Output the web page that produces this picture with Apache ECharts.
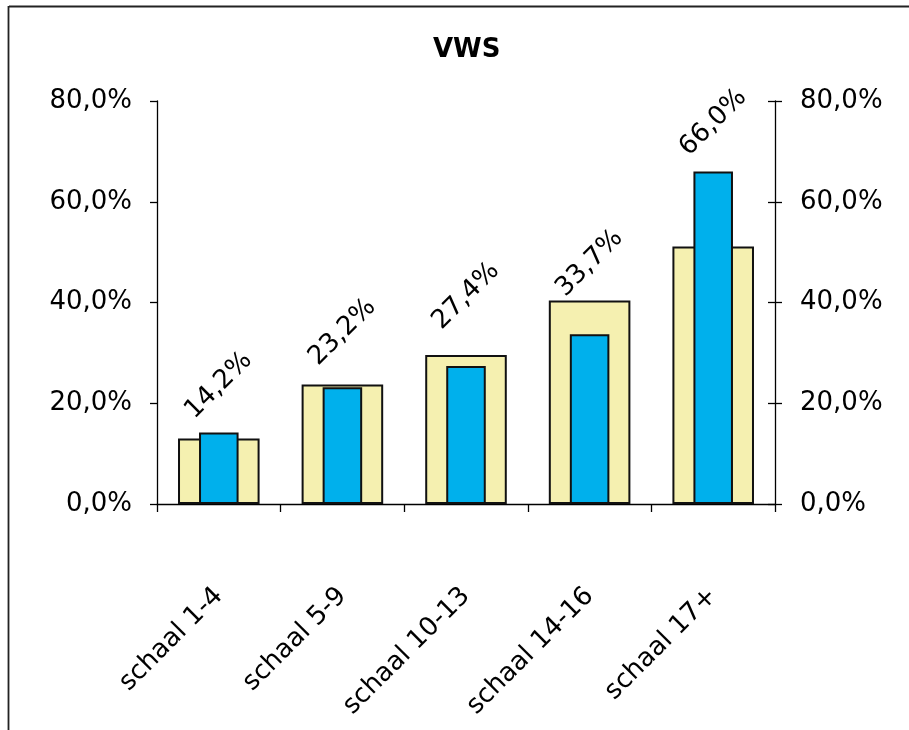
<!DOCTYPE html>
<html><head><meta charset="utf-8">
<script src="https://cdn.jsdelivr.net/npm/echarts@6/dist/echarts.min.js"></script>
<style>html,body{margin:0;padding:0;background:#fff}#c{width:909px;height:730px}</style>
</head><body><div id="c"></div>
<script>
const categories = ['schaal 1-4', 'schaal 5-9', 'schaal 10-13', 'schaal 14-16', 'schaal 17+'];
const backgroundValues = [13.0, 23.7, 29.6, 40.4, 51.1];
const vwsValues = [14.2, 23.2, 27.4, 33.7, 66.0];
const yTicks = [0, 20, 40, 60, 80];
// label distance above each blue bar (style)
const labelDistances = [47, 55, 70, 71, 49];

const FONT = '"DejaVu Sans", sans-serif';
const fmt = v => v.toFixed(1).replace('.', ',') + '%';

const chart = echarts.init(document.getElementById('c'));
const yAxisCommon = {
  type: 'value', min: yTicks[0], max: yTicks[yTicks.length - 1], interval: yTicks[1] - yTicks[0],
  axisLine: { show: true, lineStyle: { color: '#000', width: 1.3 } },
  axisTick: { show: true, length: 7, lineStyle: { color: '#000', width: 1.3 } },
  splitLine: { show: false },
  axisLabel: { formatter: fmt, color: '#000', fontSize: 26, fontFamily: FONT, margin: 25 }
};
const xAxisCommon = { type: 'category', data: categories, boundaryGap: true };
chart.setOption({
  backgroundColor: '#fff',
  animation: false,
  title: { text: 'VWS', left: 428, top: 32, textStyle: { fontSize: 26, fontWeight: 'bold', color: '#000', fontFamily: FONT } },
  grid: { left: 157, right: 134, top: 101, bottom: 226 },
  xAxis: [
    Object.assign({}, xAxisCommon, {
      axisLine: { lineStyle: { color: '#000', width: 1.3 } },
      axisTick: { show: true, length: 8, lineStyle: { color: '#000', width: 1.3 } },
      axisLabel: { rotate: 45, color: '#000', fontSize: 26, fontFamily: FONT, margin: 88, interval: 0 }
    }),
    Object.assign({}, xAxisCommon, { show: false })
  ],
  yAxis: [
    Object.assign({}, yAxisCommon, { position: 'left' }),
    Object.assign({}, yAxisCommon, { position: 'right' }),
    Object.assign({}, yAxisCommon, { position: 'right', axisLine: { show: false },
      axisTick: { show: true, inside: true, length: 7, lineStyle: { color: '#000', width: 1.3 } },
      axisLabel: { show: false } })
  ],
  graphic: [
    { type: 'line', shape: { x1: 9, y1: 6.5, x2: 909, y2: 6.5 }, style: { stroke: '#222', lineWidth: 1.8 } },
    { type: 'line', shape: { x1: 8.5, y1: 6, x2: 8.5, y2: 730 }, style: { stroke: '#222', lineWidth: 1.8 } }
  ],
  series: [
    {
      type: 'bar', data: backgroundValues, xAxisIndex: 1, barWidth: '66%', z: 1,
      itemStyle: { color: '#f5f0b0', borderColor: '#111', borderWidth: 2 }
    },
    {
      type: 'bar', xAxisIndex: 0, barWidth: '32%', z: 2,
      data: vwsValues.map((v, i) => ({ value: v, label: { distance: labelDistances[i] } })),
      itemStyle: { color: '#00b0ec', borderColor: '#111', borderWidth: 2 },
      label: {
        show: true, position: 'top', rotate: 45,
        align: 'center', verticalAlign: 'middle',
        formatter: p => fmt(p.value), color: '#000', fontSize: 26, fontFamily: FONT
      }
    }
  ]
});
</script></body></html>
